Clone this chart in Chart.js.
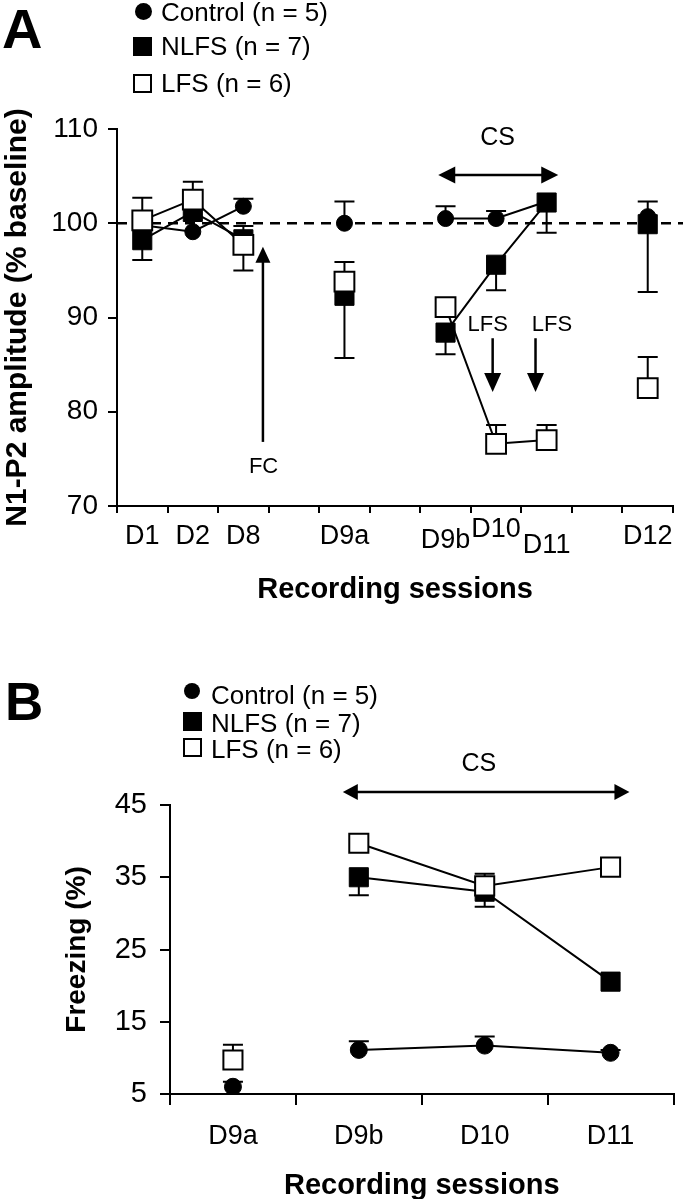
<!DOCTYPE html>
<html>
<head>
<meta charset="utf-8">
<script src="https://cdn.jsdelivr.net/npm/chart.js@4.4.1/dist/chart.umd.min.js"></script>
<style>
  html, body { margin: 0; padding: 0; background: #fff; }
  body { width: 689px; height: 1199px; position: relative; overflow: hidden; font-family: "Liberation Sans", Arial, sans-serif; color: #000; }
  canvas { position: absolute; left: 0; }
  .t { position: absolute; white-space: nowrap; line-height: 1; }
  .leg { font-size: 26px; }
  .panel { font-weight: bold; }
  .mk { position: absolute; box-sizing: border-box; }
</style>
</head>
<body>
<canvas id="chartA" width="689" height="620" style="top:0"></canvas>
<canvas id="chartB" width="689" height="579" style="top:620px"></canvas>

<div class="t panel" style="left:2px; top:1px; font-size:56px;">A</div>
<div class="mk" style="left:135px; top:2.5px; width:17px; height:17px; border-radius:50%; background:#000;"></div>
<div class="t leg" style="left:161px; top:-1px;">Control (n = 5)</div>
<div class="mk" style="left:133px; top:37px; width:19px; height:19px; background:#000;"></div>
<div class="t leg" style="left:161px; top:33px;">NLFS (n = 7)</div>
<div class="mk" style="left:133px; top:74px; width:19px; height:19px; border:2px solid #000; background:#fff;"></div>
<div class="t leg" style="left:161px; top:70px;">LFS (n = 6)</div>

<div class="t panel" style="left:5px; top:675px; font-size:53px;">B</div>
<div class="mk" style="left:184px; top:682.5px; width:16px; height:16px; border-radius:50%; background:#000;"></div>
<div class="t leg" style="left:211px; top:682px;">Control (n = 5)</div>
<div class="mk" style="left:183px; top:712px; width:19px; height:19px; background:#000;"></div>
<div class="t leg" style="left:211px; top:710px;">NLFS (n = 7)</div>
<div class="mk" style="left:183px; top:738px; width:19px; height:19px; border:2px solid #000; background:#fff;"></div>
<div class="t leg" style="left:211px; top:736px;">LFS (n = 6)</div>

<script>
// ---------------- DATA: panel A (N1-P2 amplitude, % baseline) ----------------
const sessionsA = ['D1', 'D2', 'D8', '', 'D9a', '', 'D9b', 'D10', 'D11', '', 'D12'];
const controlA  = [99.8, 99.1, 101.8, null, 100.0, null, 100.5, 100.5, 102.3, null, 100.7];
const controlErrA = [0, 0, 0.8, null, 2.3, null, 1.3, 0.8, 0, null, 1.6];
const nlfsA     = [98.2, 101.2, 98.3, null, 92.3, null, 88.4, 95.6, 102.2, null, 99.9];
const nlfsErrA  = [-2.1, 0, 1.4, null, -6.6, null, -2.3, -2.7, -3.2, null, -7.2];
const lfsA      = [100.3, 102.5, 97.7, null, 93.8, null, 91.1, 76.6, 77.0, null, 82.5];
const lfsErrA   = [2.4, 1.9, -2.7, null, 2.1, null, 0, 2.0, 1.6, null, 3.3];
const yTicksA   = [70, 80, 90, 100, 110];
const baselineA = 100;

// ---------------- DATA: panel B (Freezing %) ----------------
const sessionsB = ['D9a', 'D9b', 'D10', 'D11'];
const controlB  = [6.0, 11.1, 11.7, 10.7];
const controlErrB = [0.7, 1.2, 1.25, 0.4];
const nlfsB     = [null, 35.0, 33.0, 20.55];
const nlfsErrB  = [null, -2.5, -2.1, 0];
const lfsB      = [9.7, 39.7, 33.8, 36.4];
const lfsErrB   = [2.1, 0, 1.7, 0];
const yTicksB   = [5, 15, 25, 35, 45];
const noLineAfterB = [0]; // D9a is not connected to D9b

// ---------------- annotation placement (in axis units) ----------------
const labelShiftA = [0, 0, 0, 0, 0, 0, 4, -7, 9, 0, 0]; // vertical nudges of session labels (px)
const annotA = {
  arrows: [
    { x1: 2.387, y1: 76.8, x2: 2.387, y2: 97.5, head: 16, half: 7.5, both: false },
    { x1: 5.856, y1: 105.12, x2: 8.23, y2: 105.12, head: 17, half: 8.5, both: true },
    { x1: 6.932, y1: 87.8, x2: 6.932, y2: 82.1, head: 19, half: 8.5, both: false },
    { x1: 7.78, y1: 87.8, x2: 7.78, y2: 82.1, head: 19, half: 8.5, both: false }
  ],
  texts: [
    { text: 'FC', x: 2.4, y: 74.1, size: 22 },
    { text: 'CS', x: 7.03, y: 109.05, size: 25 },
    { text: 'LFS', x: 6.834, y: 89.2, size: 22 },
    { text: 'LFS', x: 8.107, y: 89.2, size: 22 }
  ]
};
const annotB = {
  arrows: [
    { x1: 0.873, y1: 46.8, x2: 3.15, y2: 46.8, head: 15, half: 8, both: true }
  ],
  texts: [
    { text: 'CS', x: 1.954, y: 50.65, size: 25 }
  ]
};

const FONT = '"Liberation Sans", Arial, sans-serif';
const BLACK = '#000';

// ---------------- plugins ----------------
const errorBarPlugin = {
  id: 'errorBars',
  beforeDatasetsDraw(chart, args, opts) {
    const { ctx } = chart;
    const xs = chart.scales.x, ys = chart.scales.y;
    ctx.save();
    ctx.strokeStyle = BLACK;
    ctx.lineWidth = 2;
    chart.data.datasets.forEach(ds => {
      const errs = ds.errors;
      if (!errs) return;
      ds.data.forEach((v, i) => {
        const e = errs[i];
        if (v == null || !e) return;
        const px = xs.getPixelForValue(i);
        const py = ys.getPixelForValue(v);
        const pe = ys.getPixelForValue(v + e);
        ctx.beginPath();
        ctx.moveTo(px, py); ctx.lineTo(px, pe);
        ctx.moveTo(px - opts.cap, pe); ctx.lineTo(px + opts.cap, pe);
        ctx.stroke();
      });
    });
    ctx.restore();
  }
};

const baselinePlugin = {
  id: 'baseline',
  beforeDatasetsDraw(chart, args, opts) {
    if (opts.value == null) return;
    const { ctx, chartArea } = chart;
    const y = chart.scales.y.getPixelForValue(opts.value);
    ctx.save();
    ctx.strokeStyle = BLACK;
    ctx.lineWidth = 2.5;
    ctx.setLineDash([10, 7]);
    ctx.beginPath();
    ctx.moveTo(chartArea.left, y);
    ctx.lineTo(chartArea.right + 10, y);
    ctx.stroke();
    ctx.restore();
  }
};

function arrowHead(ctx, tx, ty, dx, dy, len, half) {
  const n = Math.hypot(dx, dy); const ux = dx / n, uy = dy / n;
  const bx = tx - ux * len, by = ty - uy * len;
  ctx.beginPath();
  ctx.moveTo(tx, ty);
  ctx.lineTo(bx - uy * half, by + ux * half);
  ctx.lineTo(bx + uy * half, by - ux * half);
  ctx.closePath();
  ctx.fill();
}

const annotationPlugin = {
  id: 'annot',
  afterDatasetsDraw(chart, args, opts) {
    const spec = opts.spec; if (!spec) return;
    const { ctx } = chart;
    const xs = chart.scales.x, ys = chart.scales.y;
    ctx.save();
    ctx.strokeStyle = BLACK; ctx.fillStyle = BLACK; ctx.lineWidth = 2.5;
    spec.arrows.forEach(a => {
      const x1 = xs.getPixelForValue(a.x1), y1 = ys.getPixelForValue(a.y1);
      const x2 = xs.getPixelForValue(a.x2), y2 = ys.getPixelForValue(a.y2);
      const dx = x2 - x1, dy = y2 - y1, n = Math.hypot(dx, dy);
      const ux = dx / n, uy = dy / n;
      const sx = a.both ? x1 + ux * (a.head - 2) : x1, sy = a.both ? y1 + uy * (a.head - 2) : y1;
      ctx.beginPath();
      ctx.moveTo(sx, sy);
      ctx.lineTo(x2 - ux * (a.head - 2), y2 - uy * (a.head - 2));
      ctx.stroke();
      arrowHead(ctx, x2, y2, dx, dy, a.head, a.half);
      if (a.both) arrowHead(ctx, x1, y1, -dx, -dy, a.head, a.half);
    });
    ctx.textAlign = 'center'; ctx.textBaseline = 'middle';
    spec.texts.forEach(t => {
      ctx.font = t.size + 'px ' + FONT;
      ctx.fillText(t.text, xs.getPixelForValue(t.x), ys.getPixelForValue(t.y));
    });
    ctx.restore();
  }
};

Chart.register(errorBarPlugin, baselinePlugin, annotationPlugin);

function series(label, data, errs, style, radius, fill, bw, order, extra) {
  return Object.assign({
    label, data, errors: errs,
    pointStyle: style, pointRadius: radius, pointHoverRadius: radius,
    pointBackgroundColor: fill, pointBorderColor: BLACK, pointBorderWidth: bw,
    borderColor: BLACK, borderWidth: 2, backgroundColor: fill,
    fill: false, tension: 0, spanGaps: false, order
  }, extra || {});
}

// ---------------- Chart A ----------------
new Chart(document.getElementById('chartA'), {
  type: 'line',
  data: {
    labels: sessionsA,
    datasets: [
      series('Control (n = 5)', controlA, controlErrA, 'circle', 8, BLACK, 1, 2),
      series('NLFS (n = 7)', nlfsA, nlfsErrA, 'rect', 13.5, BLACK, 1, 1),
      series('LFS (n = 6)', lfsA, lfsErrA, 'rect', 14, '#fff', 2, 0)
    ]
  },
  options: {
    responsive: false, animation: false, devicePixelRatio: 1,
    layout: { padding: { left: 0, right: 10, top: 129, bottom: 0 } },
    plugins: {
      legend: { display: false }, tooltip: { enabled: false },
      errorBars: { cap: 10 }, baseline: { value: baselineA }, annot: { spec: annotA }
    },
    scales: {
      x: {
        type: 'category', offset: true,
        grid: { offset: true, drawOnChartArea: false, drawTicks: true, tickLength: 7, color: BLACK, lineWidth: 2 },
        border: { display: true, color: BLACK, width: 2 },
        ticks: {
          autoSkip: false, maxRotation: 0, minRotation: 0, padding: 4, color: BLACK,
          font: (c) => ({ family: FONT, size: 27, lineHeight: (40 + 2 * (labelShiftA[c.index] || 0)) / 27 })
        },
        title: { display: true, text: 'Recording sessions', color: BLACK, font: { family: FONT, size: 29, weight: 'bold', lineHeight: 1.2 }, padding: { top: 0, bottom: 13 } },
        afterFit: (s) => { s.height = 114; }
      },
      y: {
        min: 70, max: 110,
        afterBuildTicks: (s) => { s.ticks = yTicksA.map(v => ({ value: v })); },
        grid: { drawOnChartArea: false, drawTicks: true, tickLength: 9, color: BLACK, lineWidth: 2 },
        border: { display: true, color: BLACK, width: 2 },
        ticks: { padding: 10, color: BLACK, font: { family: FONT, size: 28 } },
        title: { display: true, text: 'N1-P2 amplitude (% baseline)', color: BLACK, font: { family: FONT, size: 30, weight: 'bold', lineHeight: 1.15 }, padding: { top: 0, bottom: 0 } },
        afterFit: (s) => { s.width = 117; }
      }
    }
  }
});

// ---------------- Chart B ----------------
const segB = { borderColor: (c) => noLineAfterB.includes(c.p0DataIndex) ? 'rgba(0,0,0,0)' : BLACK };
new Chart(document.getElementById('chartB'), {
  type: 'line',
  data: {
    labels: sessionsB,
    datasets: [
      series('Control (n = 5)', controlB, controlErrB, 'circle', 8.5, BLACK, 1, 2, { segment: segB }),
      series('NLFS (n = 7)', nlfsB, nlfsErrB, 'rect', 13.5, BLACK, 1, 1, { segment: segB }),
      series('LFS (n = 6)', lfsB, lfsErrB, 'rect', 13.5, '#fff', 2, 0, { segment: segB })
    ]
  },
  options: {
    responsive: false, animation: false, devicePixelRatio: 1,
    layout: { padding: { left: 0, right: 1, top: 185, bottom: 0 } },
    plugins: {
      legend: { display: false }, tooltip: { enabled: false },
      errorBars: { cap: 10 }, baseline: { value: null }, annot: { spec: annotB }
    },
    scales: {
      x: {
        type: 'category', offset: true,
        grid: { offset: true, drawOnChartArea: false, drawTicks: true, tickLength: 11, color: BLACK, lineWidth: 2 },
        border: { display: true, color: BLACK, width: 2 },
        ticks: { autoSkip: false, maxRotation: 0, minRotation: 0, padding: 15, color: BLACK, font: { family: FONT, size: 27, lineHeight: 1.2 } },
        title: { display: true, text: 'Recording sessions', color: BLACK, font: { family: FONT, size: 29, weight: 'bold', lineHeight: 0.9 }, padding: { top: 0, bottom: 0 } },
        afterFit: (s) => { s.height = 105; }
      },
      y: {
        min: 5, max: 45,
        afterBuildTicks: (s) => { s.ticks = yTicksB.map(v => ({ value: v })); },
        grid: { drawOnChartArea: false, drawTicks: true, tickLength: 10, color: BLACK, lineWidth: 2 },
        border: { display: true, color: BLACK, width: 2 },
        ticks: { padding: 13, color: BLACK, font: { family: FONT, size: 29 } },
        title: { display: true, text: 'Freezing (%)', color: BLACK, font: { family: FONT, size: 28, weight: 'bold', lineHeight: 1.2 }, padding: { top: 60, bottom: 0 } },
        afterFit: (s) => { s.width = 170; }
      }
    }
  }
});
</script>
</body>
</html>
